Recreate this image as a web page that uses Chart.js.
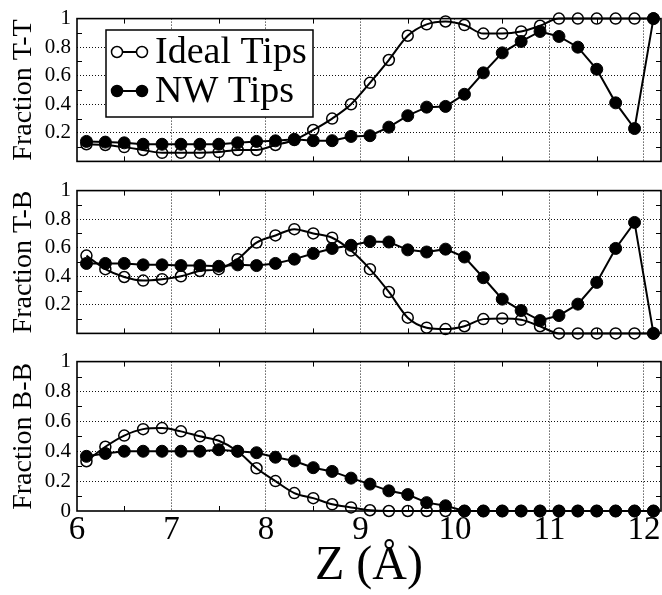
<!DOCTYPE html>
<html>
<head>
<meta charset="utf-8">
<script src="https://cdn.jsdelivr.net/npm/chart.js@4/dist/chart.umd.min.js"></script>
<style>
  html, body { margin: 0; padding: 0; background: #fff; overflow: hidden; }
  #wrap { position: relative; width: 662px; height: 595px; overflow: hidden; }
  #wrap canvas { position: absolute; left: 0; }
</style>
</head>
<body>
<div id="wrap">
  <canvas id="panelTT" width="668" height="180" style="top:0px"></canvas>
  <canvas id="panelTB" width="668" height="180" style="top:172px"></canvas>
  <canvas id="panelBB" width="668" height="252" style="top:343px"></canvas>
</div>
<script>
// Tip-tip separation Z (Å)
const zValues = [6.1, 6.3, 6.5, 6.7, 6.9, 7.1, 7.3, 7.5, 7.7, 7.9,
                 8.1, 8.3, 8.5, 8.7, 8.9, 9.1, 9.3, 9.5, 9.7, 9.9,
                 10.1, 10.3, 10.5, 10.7, 10.9, 11.1, 11.3, 11.5, 11.7, 11.9, 12.1];

// Fraction of T-T configurations
const idealTT = [0.12, 0.115, 0.10, 0.08, 0.06, 0.06, 0.06, 0.065, 0.08, 0.08,
                 0.115, 0.15, 0.22, 0.30, 0.40, 0.55, 0.71, 0.88, 0.96, 0.98,
                 0.955, 0.895, 0.895, 0.91, 0.95, 1, 1, 1, 1, 1, 1];
const nwTT    = [0.14, 0.135, 0.13, 0.12, 0.12, 0.12, 0.12, 0.12, 0.13, 0.14,
                 0.144, 0.155, 0.145, 0.145, 0.175, 0.18, 0.24, 0.32, 0.38, 0.385,
                 0.47, 0.62, 0.76, 0.84, 0.91, 0.875, 0.80, 0.645, 0.41, 0.23, 1.0];

// Fraction of T-B configurations
const idealTB = [0.545, 0.45, 0.395, 0.37, 0.38, 0.40, 0.437, 0.45, 0.52, 0.636,
                 0.686, 0.73, 0.70, 0.67, 0.58, 0.45, 0.29, 0.11, 0.04, 0.03,
                 0.05, 0.10, 0.105, 0.095, 0.05, 0, 0, 0, 0, 0, 0];
const nwTB    = [0.49, 0.49, 0.49, 0.48, 0.48, 0.475, 0.475, 0.47, 0.48, 0.475,
                 0.49, 0.52, 0.56, 0.595, 0.617, 0.643, 0.64, 0.585, 0.57, 0.59,
                 0.535, 0.39, 0.24, 0.16, 0.09, 0.125, 0.205, 0.357, 0.595, 0.777, 0];

// Fraction of B-B configurations
const idealBB = [0.333, 0.43, 0.505, 0.548, 0.555, 0.533, 0.50, 0.47, 0.40, 0.286,
                 0.20, 0.12, 0.086, 0.045, 0.024, 0.005, 0, 0, 0, 0,
                 0, 0, 0, 0, 0, 0, 0, 0, 0, 0, 0];
const nwBB    = [0.366, 0.385, 0.40, 0.40, 0.40, 0.40, 0.40, 0.41, 0.40, 0.39,
                 0.36, 0.335, 0.29, 0.265, 0.22, 0.18, 0.135, 0.11, 0.056, 0.035,
                 0, 0, 0, 0, 0, 0, 0, 0, 0, 0, 0];

const seriesNames = ['Ideal Tips', 'NW Tips'];
const panelTitles = ['Fraction T-T', 'Fraction T-B', 'Fraction B-B'];
const xTitle = 'Z (Å)';
const xTickValues = [6, 7, 8, 9, 10, 11, 12];
const yTickValues = [0, 0.2, 0.4, 0.6, 0.8, 1];
const xMinorTicks = [6.5, 7.5, 8.5, 9.5, 10.5, 11.5];
const yMinorTicks = [0.1, 0.3, 0.5, 0.7, 0.9];

const SERIF = "'Liberation Serif', 'DejaVu Serif', 'Times New Roman', serif";
Chart.defaults.font.family = SERIF;
Chart.defaults.color = '#000';

const toPoints = vals => zValues.map((z, i) => ({ x: z, y: vals[i] }));
const fmtY = v => (v === 0 ? '0' : v === 1 ? '1' : v.toFixed(1));

// Box around the plot area with short inward minor ticks on every side
const framePlugin = {
  id: 'frame',
  beforeDatasetsDraw(chart) {
    const { ctx, chartArea: a, scales: { x, y } } = chart;
    ctx.save();
    ctx.strokeStyle = '#000';
    ctx.lineWidth = 1;
    ctx.beginPath();
    xMinorTicks.forEach(v => {
      const px = Math.round(x.getPixelForValue(v)) + 0.5;
      ctx.moveTo(px, a.top); ctx.lineTo(px, a.top + 5);
      ctx.moveTo(px, a.bottom); ctx.lineTo(px, a.bottom - 5);
    });
    yMinorTicks.forEach(v => {
      const py = Math.round(y.getPixelForValue(v)) + 0.5;
      ctx.moveTo(a.left, py); ctx.lineTo(a.left + 5, py);
      ctx.moveTo(a.right, py); ctx.lineTo(a.right - 5, py);
    });
    ctx.stroke();
    ctx.lineWidth = 1.6;
    ctx.strokeRect(a.left, a.top, a.right - a.left, a.bottom - a.top);
    ctx.restore();
  }
};

// Key with a line-and-two-markers sample for each series
const keyPlugin = {
  id: 'seriesKey',
  afterDraw(chart, args, opts) {
    if (!opts.show) return;
    const ctx = chart.ctx;
    const box = { left: 106, top: 30, right: 313, bottom: 117 };
    ctx.save();
    ctx.fillStyle = '#fff';
    ctx.fillRect(box.left, box.top, box.right - box.left, box.bottom - box.top);
    ctx.strokeStyle = '#000';
    ctx.lineWidth = 1.5;
    ctx.strokeRect(box.left, box.top, box.right - box.left, box.bottom - box.top);
    const rows = [
      { label: seriesNames[0], filled: false, cy: 52, base: 63 },
      { label: seriesNames[1], filled: true, cy: 91, base: 102 }
    ];
    rows.forEach(r => {
      ctx.beginPath();
      ctx.lineWidth = 2;
      ctx.moveTo(117, r.cy); ctx.lineTo(142, r.cy);
      ctx.stroke();
      [117, 142].forEach(cx => {
        ctx.beginPath();
        ctx.arc(cx, r.cy, 5.5, 0, Math.PI * 2);
        ctx.fillStyle = r.filled ? '#000' : '#fff';
        ctx.fill();
        ctx.lineWidth = 1.5;
        ctx.stroke();
      });
      ctx.fillStyle = '#000';
      ctx.font = '38px ' + SERIF;
      ctx.textBaseline = 'alphabetic';
      ctx.textAlign = 'left';
      ctx.fillText(r.label, 155, r.base);
    });
    ctx.restore();
  }
};

function makePanel(id, title, ideal, nw, opt) {
  return new Chart(document.getElementById(id), {
    type: 'line',
    data: {
      datasets: [
        {
          label: seriesNames[0],
          data: toPoints(ideal),
          order: 1,
          borderColor: '#000',
          borderWidth: 2,
          cubicInterpolationMode: 'monotone',
          pointRadius: 5.5,
          pointBorderWidth: 1.5,
          pointBorderColor: '#000',
          pointBackgroundColor: 'rgba(0,0,0,0)',
          clip: false
        },
        {
          label: seriesNames[1],
          data: toPoints(nw),
          order: 0,
          borderColor: '#000',
          borderWidth: 2,
          tension: 0,
          pointRadius: 6,
          pointBorderWidth: 1,
          pointBorderColor: '#000',
          pointBackgroundColor: '#000',
          clip: false
        }
      ]
    },
    options: {
      responsive: false,
      animation: false,
      devicePixelRatio: 1,
      layout: { padding: { top: 13, bottom: opt.padBottom, left: 0, right: 4 } },
      plugins: {
        legend: { display: false },
        tooltip: { enabled: false },
        seriesKey: { show: !!opt.key }
      },
      scales: {
        x: {
          type: 'linear',
          min: 6,
          max: 12.18,
          afterBuildTicks: s => { s.ticks = xTickValues.map(v => ({ value: v })); },
          afterFit: s => { s.height = opt.showX ? 84 : 0; },
          ticks: { display: !!opt.showX, font: { size: 33 }, color: '#000', padding: 0, maxRotation: 0, autoSkip: false },
          grid: {
            drawTicks: false,
            lineWidth: 1,
            color: c => (c.tick && c.tick.value > 6 ? '#111' : 'rgba(0,0,0,0)')
          },
          border: { display: false, dash: [1, 2] },
          title: { display: !!opt.showX, text: xTitle, font: { size: 48 }, color: '#000', padding: 0 }
        },
        y: {
          min: 0,
          max: 1,
          afterBuildTicks: s => { s.ticks = yTickValues.map(v => ({ value: v })); },
          afterFit: s => { s.width = 77; },
          ticks: {
            font: { size: 21 },
            color: '#000',
            padding: 6,
            callback: v => (v === 0 && !opt.showZero ? '' : fmtY(v))
          },
          grid: {
            drawTicks: false,
            lineWidth: 1,
            color: c => (c.tick && c.tick.value > 0 && c.tick.value < 1 ? '#111' : 'rgba(0,0,0,0)')
          },
          border: { display: false, dash: [1, 2] },
          title: { display: true, text: title, font: { size: 28 }, color: '#000', padding: { top: 7, bottom: 0 } }
        }
      }
    },
    plugins: [framePlugin, keyPlugin]
  });
}

makePanel('panelTT', panelTitles[0], idealTT, nwTT, { padBottom: 12, key: true });
makePanel('panelTB', panelTitles[1], idealTB, nwTB, { padBottom: 13 });
makePanel('panelBB', panelTitles[2], idealBB, nwBB, { padBottom: 0, showX: true, showZero: true });
</script>
</body>
</html>
